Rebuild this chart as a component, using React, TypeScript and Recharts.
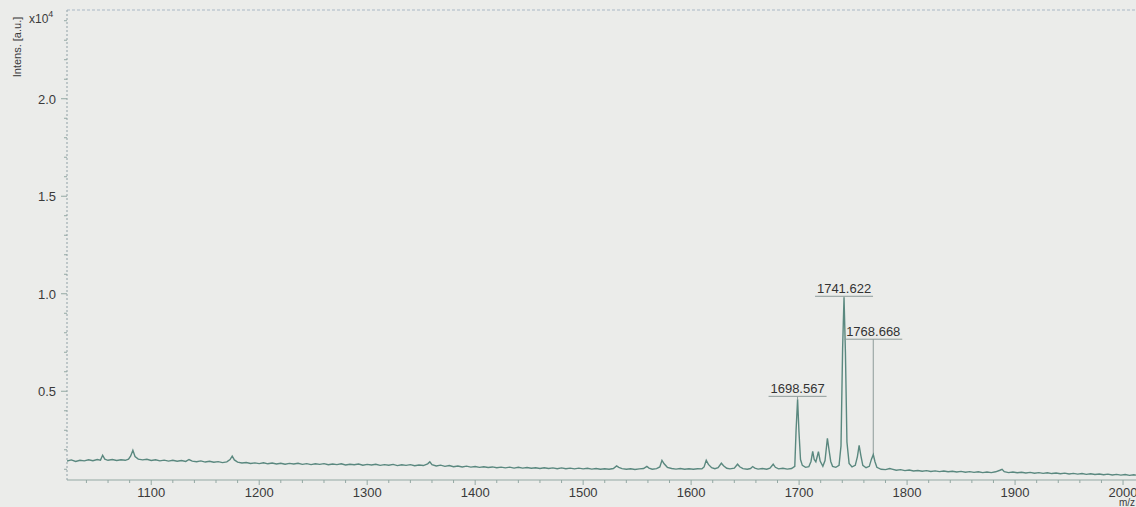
import React from 'react';
import {
  ComposedChart,
  Line,
  Scatter,
  XAxis,
  YAxis,
  ReferenceLine,
} from 'recharts';

// intensity in units of 10^4 a.u.
const lowMass: [number, number][] = [
  [1022, 0.142], [1026, 0.148], [1030, 0.14], [1034, 0.146], [1038, 0.143], [1042, 0.149],
  [1046, 0.144], [1050, 0.15], [1053, 0.147], [1055, 0.172], [1057, 0.152], [1060, 0.146],
  [1064, 0.15], [1068, 0.145], [1072, 0.149], [1076, 0.146], [1079, 0.152], [1081, 0.168],
  [1083, 0.197], [1085, 0.165], [1088, 0.152], [1092, 0.148], [1096, 0.151], [1100, 0.145],
  [1104, 0.149], [1108, 0.143], [1112, 0.147], [1116, 0.142], [1120, 0.146], [1124, 0.141],
  [1128, 0.145], [1132, 0.14], [1135, 0.15], [1138, 0.142], [1142, 0.139], [1146, 0.143],
  [1150, 0.137], [1154, 0.141], [1158, 0.136], [1162, 0.139], [1166, 0.134], [1170, 0.138],
  [1173, 0.15], [1175, 0.167], [1177, 0.148], [1180, 0.137], [1184, 0.132], [1188, 0.135],
  [1192, 0.13], [1196, 0.133], [1200, 0.129],
];

const midMass: [number, number][] = [
  [1204, 0.133], [1208, 0.128], [1212, 0.132], [1216, 0.127], [1220, 0.131], [1224, 0.126],
  [1228, 0.13], [1232, 0.127], [1236, 0.131], [1240, 0.125], [1244, 0.129], [1248, 0.124],
  [1252, 0.128], [1256, 0.125], [1260, 0.129], [1264, 0.123], [1268, 0.127], [1272, 0.124],
  [1276, 0.128], [1280, 0.122], [1284, 0.126], [1288, 0.123], [1292, 0.127], [1296, 0.121],
  [1300, 0.125], [1304, 0.122], [1308, 0.126], [1312, 0.12], [1316, 0.124], [1320, 0.121],
  [1324, 0.125], [1328, 0.119], [1332, 0.123], [1336, 0.12], [1340, 0.124], [1344, 0.118],
  [1348, 0.122], [1352, 0.119], [1356, 0.128], [1358, 0.138], [1360, 0.124], [1364, 0.117],
  [1368, 0.121], [1372, 0.115], [1376, 0.119], [1380, 0.113], [1384, 0.117], [1388, 0.112],
  [1392, 0.116], [1396, 0.111], [1400, 0.114], [1404, 0.11], [1408, 0.113], [1412, 0.109],
  [1416, 0.112], [1420, 0.108], [1424, 0.111], [1428, 0.107], [1432, 0.111], [1436, 0.106],
  [1440, 0.11], [1444, 0.106], [1448, 0.109], [1452, 0.105], [1456, 0.108], [1460, 0.104],
  [1464, 0.108], [1468, 0.104], [1472, 0.107], [1476, 0.103], [1480, 0.107], [1484, 0.103],
  [1488, 0.106], [1492, 0.102], [1496, 0.106], [1500, 0.102],
];

const preCluster: [number, number][] = [
  [1504, 0.105], [1508, 0.101], [1512, 0.104], [1516, 0.1], [1520, 0.103], [1524, 0.1],
  [1528, 0.104], [1531, 0.117], [1533, 0.11], [1536, 0.103], [1540, 0.1], [1544, 0.103],
  [1548, 0.099], [1552, 0.102], [1556, 0.104], [1559, 0.115], [1561, 0.106], [1564, 0.1],
  [1568, 0.103], [1571, 0.112], [1573, 0.146], [1575, 0.128], [1578, 0.11], [1582, 0.104],
  [1586, 0.101], [1590, 0.104], [1594, 0.1], [1598, 0.103], [1602, 0.1], [1606, 0.103],
  [1610, 0.102], [1612, 0.112], [1614, 0.146], [1616, 0.125], [1619, 0.108], [1622, 0.103],
  [1625, 0.108], [1628, 0.131], [1630, 0.118], [1633, 0.105], [1636, 0.102], [1640, 0.106],
  [1643, 0.126], [1645, 0.113], [1648, 0.103], [1652, 0.1], [1655, 0.104], [1657, 0.114],
  [1659, 0.106], [1662, 0.101], [1666, 0.104], [1670, 0.1], [1673, 0.106], [1676, 0.126],
  [1678, 0.11], [1681, 0.102], [1685, 0.105], [1689, 0.101], [1693, 0.104], [1696, 0.115],
];

const peakCluster: [number, number][] = [
  [1697.2, 0.3], [1698.6, 0.459], [1699.9, 0.29], [1701.3, 0.15], [1703, 0.12], [1706, 0.11],
  [1709, 0.113], [1711, 0.14], [1712.6, 0.192], [1714, 0.15], [1715.5, 0.138], [1717.9, 0.19],
  [1719.5, 0.142], [1722, 0.115], [1724, 0.145], [1726.2, 0.259], [1727.7, 0.2], [1729.3, 0.14],
  [1731, 0.115], [1734, 0.11], [1737, 0.12], [1738.8, 0.22], [1740.3, 0.72], [1741.6, 0.982],
  [1742.9, 0.7], [1744.3, 0.24], [1746.3, 0.13], [1749, 0.112], [1752, 0.12], [1754, 0.165],
  [1755.6, 0.223], [1757.2, 0.17], [1759, 0.12], [1762, 0.108], [1765, 0.115], [1767, 0.152],
  [1768.7, 0.175], [1770.2, 0.14], [1772, 0.11], [1776, 0.1], [1780, 0.098], [1784, 0.104],
  [1786, 0.101], [1790, 0.095], [1794, 0.098], [1798, 0.093],
];

const highMass: [number, number][] = [
  [1802, 0.096], [1806, 0.091], [1810, 0.094], [1814, 0.09], [1818, 0.093], [1822, 0.089],
  [1826, 0.092], [1830, 0.088], [1834, 0.091], [1838, 0.087], [1842, 0.09], [1846, 0.086],
  [1850, 0.089], [1854, 0.085], [1858, 0.088], [1862, 0.084], [1866, 0.087], [1870, 0.083],
  [1874, 0.086], [1878, 0.083], [1882, 0.087], [1886, 0.095], [1888, 0.1], [1890, 0.088],
  [1894, 0.083], [1898, 0.086], [1902, 0.082], [1906, 0.085], [1910, 0.081], [1914, 0.084],
  [1918, 0.08], [1922, 0.083], [1926, 0.079], [1930, 0.082], [1934, 0.078], [1938, 0.081],
  [1942, 0.077], [1946, 0.08], [1950, 0.076], [1954, 0.079], [1958, 0.075], [1962, 0.078],
  [1966, 0.074], [1970, 0.077], [1974, 0.073], [1978, 0.076], [1982, 0.072], [1986, 0.075],
  [1990, 0.071], [1994, 0.074], [1998, 0.07], [2002, 0.073], [2006, 0.069], [2010, 0.072],
  [2012, 0.07],
];

// labelled peaks
const peakMz = [1698.567, 1741.622, 1768.668];
const peakTop = [0.459, 0.982, 0.175];
const labelLevel = [0.474, 0.987, 0.767];

const xTicks = [
  1040, 1060, 1080, 1100, 1120, 1140, 1160, 1180, 1200, 1220, 1240, 1260, 1280, 1300,
  1320, 1340, 1360, 1380, 1400, 1420, 1440, 1460, 1480, 1500, 1520, 1540, 1560, 1580,
  1600, 1620, 1640, 1660, 1680, 1700, 1720, 1740, 1760, 1780, 1800, 1820, 1840, 1860,
  1880, 1900, 1920, 1940, 1960, 1980, 2000,
];
const yTicks = [
  0.1, 0.2, 0.3, 0.4, 0.5, 0.6, 0.7, 0.8, 0.9, 1.0, 1.1, 1.2, 1.3, 1.4, 1.5, 1.6, 1.7,
  1.8, 1.9, 2.0, 2.1, 2.2, 2.3, 2.4,
];

const spectrum = [...lowMass, ...midMass, ...preCluster, ...peakCluster, ...highMass].map(
  ([mz, intensity]) => ({ mz, intensity })
);
const peakLabels = peakMz.map((mz, i) => ({ mz, level: labelLevel[i], name: mz.toFixed(3) }));

const FONT = '"Liberation Sans", Arial, sans-serif';
const TEXT = '#3a3a3a';
const AXIS = '#93a8a3';

const XTick = (props: any) => {
  const { x, y, payload } = props;
  const major = payload.value % 100 === 0;
  return (
    <g>
      <line x1={x} x2={x} y1={y} y2={y + (major ? 5 : 3)} stroke={AXIS} />
      {major && (
        <text x={x} y={y + 17} textAnchor="middle" fontSize={13} fontFamily={FONT} fill={TEXT}>
          {payload.value}
        </text>
      )}
    </g>
  );
};

const YTick = (props: any) => {
  const { x, y, payload } = props;
  const v = payload.value;
  const major = Math.abs(v * 2 - Math.round(v * 2)) < 1e-6;
  return (
    <g>
      <line x1={x - (major ? 6 : 3)} x2={x} y1={y} y2={y} stroke={AXIS} />
      {major && (
        <text x={x - 11} y={y + 5} textAnchor="end" fontSize={13} fontFamily={FONT} fill={TEXT}>
          {v.toFixed(1)}
        </text>
      )}
    </g>
  );
};

const PeakLabel = (props: any) => {
  const { cx, cy, payload } = props;
  return (
    <g>
      <text x={cx} y={cy - 3} textAnchor="middle" fontSize={13} fontFamily={FONT} fill="#333">
        {payload.name}
      </text>
      <line x1={cx - 29} x2={cx + 29} y1={cy} y2={cy} stroke="#8d9b99" />
    </g>
  );
};

export default function App() {
  return (
    <div
      style={{
        position: 'absolute',
        left: 0,
        top: 0,
        width: 1136,
        height: 507,
        background: '#ebecea',
        overflow: 'hidden',
      }}
    >
      <ComposedChart
        width={1136}
        height={507}
        data={spectrum}
        margin={{ top: 10, right: 0, bottom: 0, left: 0 }}
      >
        <XAxis
          dataKey="mz"
          type="number"
          domain={[1022, 2012]}
          allowDataOverflow
          ticks={xTicks}
          interval={0}
          height={27}
          tickSize={0}
          tickMargin={0}
          tick={<XTick />}
          axisLine={{ stroke: AXIS }}
        />
        <YAxis
          type="number"
          domain={[0.045, 2.455]}
          allowDataOverflow
          ticks={yTicks}
          interval={0}
          width={67}
          tickSize={0}
          tickMargin={0}
          tick={<YTick />}
          axisLine={{ stroke: '#8fa0a6', strokeDasharray: '2 2' }}
        />
        <ReferenceLine y={2.455} stroke="#a9b8c6" strokeDasharray="3 2" />
        {peakMz.map((mz, i) => (
          <ReferenceLine
            key={mz}
            segment={[
              { x: mz, y: labelLevel[i] },
              { x: mz, y: peakTop[i] },
            ]}
            stroke="#8d9b99"
          />
        ))}
        <Line
          dataKey="intensity"
          type="linear"
          stroke="#5a887f"
          strokeWidth={1.4}
          dot={false}
          isAnimationActive={false}
        />
        <Scatter
          data={peakLabels}
          dataKey="level"
          shape={<PeakLabel />}
          isAnimationActive={false}
        />
      </ComposedChart>
      <svg
        width={1136}
        height={507}
        style={{ position: 'absolute', left: 0, top: 0, pointerEvents: 'none' }}
      >
        <text
          transform="translate(21,47) rotate(-90)"
          textAnchor="middle"
          fontSize={11}
          fontFamily={FONT}
          fill={TEXT}
        >
          Intens. [a.u.]
        </text>
        <text x={29} y={23} fontSize={12} fontFamily={FONT} fill={TEXT}>
          x10
          <tspan dy={-6} fontSize={9}>
            4
          </tspan>
        </text>
        <text x={1119} y={506} fontSize={10} fontFamily={FONT} fill={TEXT}>
          m/z
        </text>
      </svg>
    </div>
  );
}
